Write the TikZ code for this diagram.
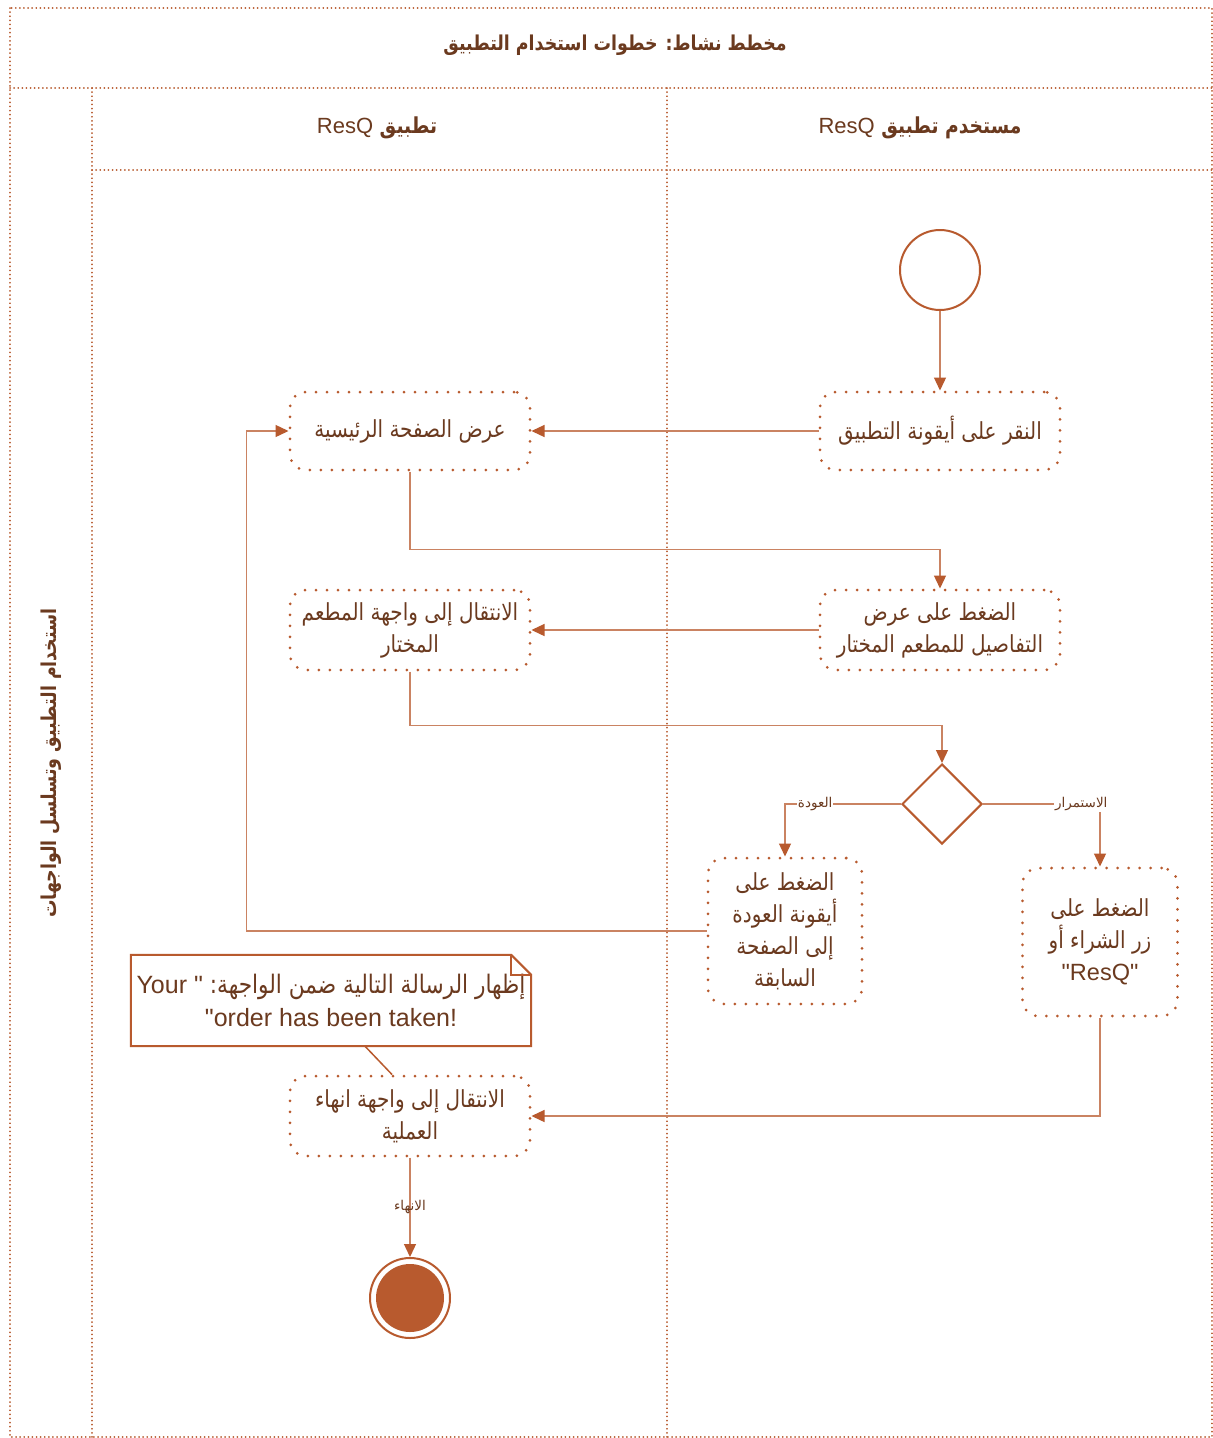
\documentclass[tikz,border=0pt]{standalone}
\usepackage{fontspec}
\setmainfont{Liberation Sans}[Ligatures=TeXOff]
\newfontfamily\arabicfont[Script=Arabic,FakeStretch=0.85]{DejaVu Sans}
\newfontfamily\arabicfull[Script=Arabic]{DejaVu Sans}
\TeXXeTstate=1
\usetikzlibrary{arrows.meta,shapes.geometric}
\definecolor{rust}{HTML}{B85A2E}
\definecolor{ink}{HTML}{6B3A1F}
% right-to-left Arabic runs; Latin pieces inside go through \lat
\newcommand\ar[1]{{\arabicfont\beginR #1\endR}}
\newcommand\arf[1]{{\arabicfull\beginR #1\endR}}
\newcommand\lat[1]{\beginL{\rmfamily\mdseries #1}\endL{}}
\tikzset{
  lane/.style={draw=rust, line width=1.8pt, dash pattern=on 0.1pt off 4pt, line cap=round},
  act/.style={draw=rust, line width=3pt, dash pattern=on 0pt off 11pt, line cap=round,
    rounded corners=16pt, minimum width=240pt, minimum height=78pt, align=center,
    text=ink, inner sep=4pt, font=\fontsize{23.5}{32}\selectfont},
  flow/.style={draw=rust!75, line width=1.3pt,
    -{Triangle[length=13pt,width=12pt,color=rust]}},
  lbl/.style={text=ink, font=\fontsize{13.5}{15}\selectfont, fill=white, inner sep=1pt},
  head/.style={text=ink, font=\fontsize{22}{26}\selectfont},
  titlefont/.style={text=ink, font=\bfseries\fontsize{20.5}{24}\selectfont},
  startnode/.style={circle, draw=rust, line width=2pt, minimum size=80pt, inner sep=0pt},
}
\begin{document}
\begin{tikzpicture}[x=1pt,y=-1pt]
\useasboundingbox (0,0) rectangle (1213,1438);
\fill[white] (0,0) rectangle (1213,1438);

% swimlane frame
\draw[lane] (10,8) rectangle (1212,1437);
\draw[lane] (10,88) -- (1212,88);
\draw[lane] (92,88) -- (92,1437);
\draw[lane] (667,88) -- (667,1437);
\draw[lane] (92,170) -- (1212,170);

% titles
\node[titlefont] (title) at (615,45) {\ar{مخطط نشاط: خطوات استخدام التطبيق}};
\node[head] (hsys) at (377,128) {{\bfseries\ar{تطبيق \lat{ResQ}}}};
\node[head] (huser) at (920,128) {{\bfseries\ar{مستخدم تطبيق \lat{ResQ}}}};
\node[titlefont, rotate=90] (hlane) at (51,763) {\ar{استخدام التطبيق وتسلسل الواجهات}};

% activities
\node[startnode] (start) at (940,270) {};
\node[act] (n1) at (940,431) {\ar{النقر على أيقونة التطبيق}};
\node[act] (n2) at (410,431) {\ar{عرض الصفحة الرئيسية}};
\node[act, minimum height=80pt] (n3) at (940,630)
  {\ar{الضغط على عرض}\\\ar{التفاصيل للمطعم المختار}};
\node[act, minimum height=80pt] (n4) at (410,630)
  {\ar{الانتقال إلى واجهة المطعم}\\\ar{المختار}};
\node[diamond, draw=rust, line width=2pt, minimum width=80pt, minimum height=80pt,
  inner sep=0pt, aspect=1] (dec) at (942,804) {};
\node[act, minimum width=154pt, minimum height=146pt] (n5) at (785,931)
  {\ar{الضغط على}\\\ar{أيقونة العودة}\\\ar{إلى الصفحة}\\\ar{السابقة}};
\node[act, minimum width=155pt, minimum height=148pt] (n6) at (1100,942)
  {\ar{الضغط على}\\\ar{زر الشراء أو}\\"ResQ"};
\node[act, minimum height=80pt] (n7) at (410,1116)
  {\ar{الانتقال إلى واجهة انهاء}\\\ar{العملية}};
\node[startnode] (end) at (410,1298) {};
\fill[rust] (end.center) circle (34);

% note
\node[text=ink, align=center, minimum width=400pt, minimum height=91pt,
  font=\fontsize{25}{33}\selectfont] (note) at (331,1000.5)
  {Your "\ {\fontsize{25.5}{33}\selectfont\ar{إظهار الرسالة التالية ضمن الواجهة:}}\\"order has been taken!};
\draw[rust, line width=2pt, line join=miter]
  (note.north west) -- ([xshift=-20pt]note.north east) -- ([yshift=-20pt]note.north east)
  -- (note.south east) -- (note.south west) -- cycle;
\draw[rust, line width=1.5pt]
  ([xshift=-20pt]note.north east) -- ([xshift=-20pt,yshift=-20pt]note.north east)
  -- ([yshift=-20pt]note.north east);

% control flow
\draw[flow] (start) -- (n1);
\draw[flow] (n1) -- (n2);
\draw[flow] (n2.south) -- ++(0,78) -| (n3.north);
\draw[flow] (n3) -- (n4);
\draw[flow] (n4.south) -- ++(0,54) -| (dec.north);
\draw[flow] (dec.west) -| (n5.north) node[lbl, pos=0.37] {\arf{العودة}};
\draw[flow] (dec.east) -| (n6.north) node[lbl, pos=0.42] {\arf{الاستمرار}};
\draw[flow] (n5.west) -- ++(-460,0) |- (n2.west);
\draw[flow] (n6.south) |- (n7.east);
\draw[rust, line width=1.5pt] ([xshift=34pt]note.south) -- ([xshift=-18pt]n7.north);
\draw[flow] (n7) -- (end) node[lbl, midway, fill=none] {\arf{الانهاء}};
\end{tikzpicture}
\end{document}
